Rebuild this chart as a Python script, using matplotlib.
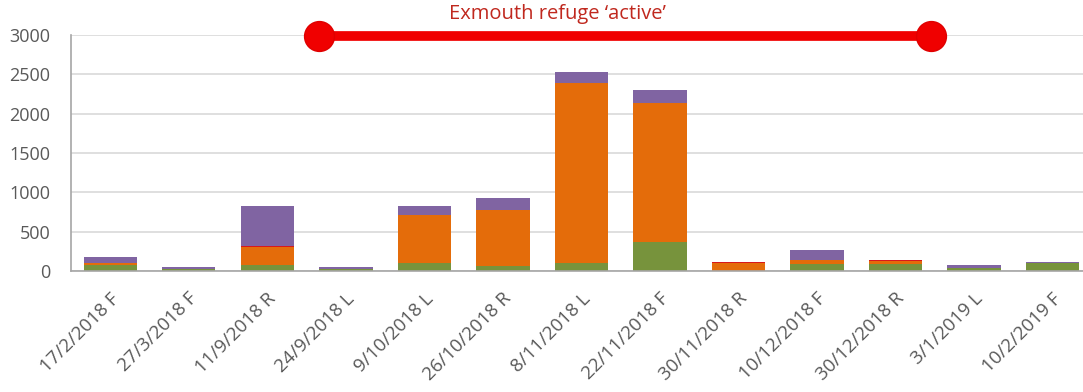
import matplotlib.pyplot as plt
import matplotlib.transforms as mtransforms
import numpy as np

plt.rcParams['font.family'] = ['Open Sans', 'DejaVu Sans']

surveys = ["17/2/2018 F", "27/3/2018 F", "11/9/2018 R", "24/9/2018 L", "9/10/2018 L",
           "26/10/2018 R", "8/11/2018 L", "22/11/2018 F", "30/11/2018 R", "10/12/2018 F",
           "30/12/2018 R", "3/1/2019 L", "10/2/2019 F"]
green = [80, 30, 80, 30, 100, 60, 100, 370, 0, 90, 90, 40, 105]
orange = [20, 0, 225, 0, 610, 720, 2290, 1765, 100, 50, 35, 0, 0]
red = [0, 0, 10, 0, 0, 0, 0, 0, 15, 0, 15, 0, 0]
purple = [80, 15, 515, 20, 115, 145, 140, 165, 0, 130, 0, 35, 10]

active_start, active_end = 2.66, 10.46
active_label = "Exmouth refuge \u2018active\u2019"

fig = plt.figure(figsize=(10.83, 3.92), dpi=100)
ax = fig.add_axes([0.0656, 0.309, 0.9344, 0.602])

x = np.arange(len(surveys))
bottom = np.zeros(len(surveys))
for vals, col in [(green, '#77933C'), (orange, '#E46C0A'), (red, '#D7191C'), (purple, '#8064A2')]:
    ax.bar(x, vals, 0.68, bottom=bottom, color=col, zorder=2)
    bottom += np.array(vals)

ax.set_ylim(0, 3000)
ax.set_xlim(-0.5, 12.39)
ax.set_yticks(range(0, 3001, 500))
ax.yaxis.grid(color='#D9D9D9', linewidth=1.2, zorder=0)
ax.set_xticks(x)
ax.set_xticklabels(surveys, rotation=45, ha='right', va='center', rotation_mode='anchor')
ax.tick_params(axis='both', length=0, labelsize=13, labelcolor='#595959')
ax.tick_params(axis='x', labelsize=13.5, pad=18)
ax.tick_params(axis='y', pad=15)
shift = mtransforms.ScaledTranslation(0.06, 0, fig.dpi_scale_trans)
for lbl in ax.get_xticklabels():
    lbl.set_transform(lbl.get_transform() + shift)
for s in ['top', 'right']:
    ax.spines[s].set_visible(False)
for s in ['left', 'bottom']:
    ax.spines[s].set_color('#A6A6A6')
    ax.spines[s].set_linewidth(1.2)

ax.plot([active_start, active_end], [2980, 2980], color='#F00000', linewidth=7,
        marker='o', markersize=21.5, markeredgecolor='#E00000', clip_on=False,
        zorder=5, solid_capstyle='butt')
ax.text(5.69, 3265, active_label, color='#C0281E',
        fontsize=14.5, ha='center', va='center', clip_on=False)

plt.savefig("out.png", dpi=100)
